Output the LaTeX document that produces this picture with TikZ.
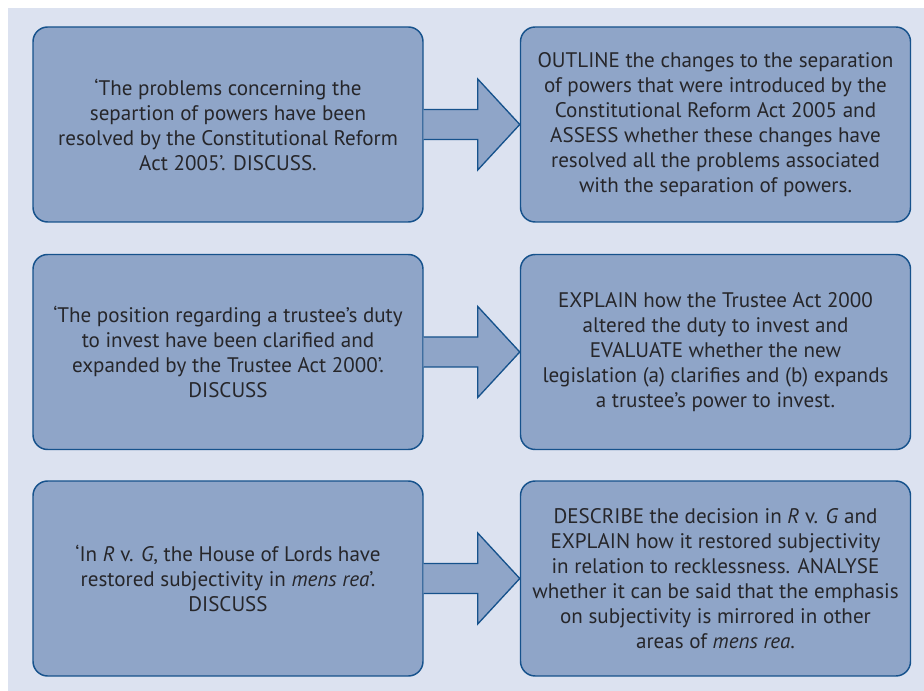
\documentclass[tikz,border=0pt]{standalone}
\usepackage{fontspec}
\setmainfont{PT Sans}
\usetikzlibrary{calc}
\definecolor{panelblue}{RGB}{220,226,240}
\definecolor{boxblue}{RGB}{143,165,200}
\definecolor{edgeblue}{RGB}{22,82,140}
\definecolor{textgrey}{RGB}{38,38,42}
\tikzset{
  qbox/.style={draw=edgeblue, line width=1.1pt, fill=boxblue, rounded corners=11pt,
    minimum width=292.5pt, minimum height=146.25pt, inner sep=0pt, align=center,
    text=textgrey, font=\fontsize{15.8}{18.75}\selectfont},
  barrow/.style={draw=edgeblue, line width=1pt, fill=boxblue, line join=miter}
}
% block arrow from one box to the next
\newcommand{\blockarrow}[2]{%
  \draw[barrow] ($(#1.east)+(0,-15)$) -- ($(#1.east)+(54,-15)$) -- ($(#1.east)+(54,-45.5)$)
    -- (#2.west) -- ($(#1.east)+(54,45.5)$) -- ($(#1.east)+(54,15)$) -- ($(#1.east)+(0,15)$);}
\begin{document}
\begin{tikzpicture}[x=0.75pt,y=-0.75pt]
	\useasboundingbox (0,0) rectangle (924,691);
	\fill[panelblue] (8,8) rectangle (924,691);

	% row 1
	\node[qbox] (quest1) at (228,124.5) {‘The problems concerning the\\ separtion of powers have been\\ resolved by the Constitutional Reform\\ Act 2005’. DISCUSS.};
	\node[qbox] (plan1) at (715.5,124.5) {OUTLINE the changes to the separation\\ of powers that were introduced by the\\ Constitutional Reform Act 2005 and\\ ASSESS whether these changes have\\ resolved all the problems associated\\ with the separation of powers.};
	\blockarrow{quest1}{plan1}

	% row 2
	\node[qbox] (quest2) at (228,352) {‘The position regarding a trustee’s duty\\ to invest have been clarified and\\ expanded by the Trustee Act 2000’.\\ DISCUSS};
	\node[qbox] (plan2) at (715.5,352) {EXPLAIN how the Trustee Act 2000\\ altered the duty to invest and\\ EVALUATE whether the new\\ legislation (a) clarifies and (b) expands\\ a trustee’s power to invest.};
	\blockarrow{quest2}{plan2}

	% row 3
	\node[qbox] (quest3) at (228,578.5) {‘In \textit{R} v. \textit{G}, the House of Lords have\\ restored subjectivity in \textit{mens rea}’.\\ DISCUSS};
	\node[qbox] (plan3) at (715.5,578.5) {DESCRIBE the decision in \textit{R} v. \textit{G} and\\ EXPLAIN how it restored subjectivity\\ in relation to recklessness. ANALYSE\\ whether it can be said that the emphasis\\ on subjectivity is mirrored in other\\ areas of \textit{mens rea}.};
	\blockarrow{quest3}{plan3}
\end{tikzpicture}
\end{document}
